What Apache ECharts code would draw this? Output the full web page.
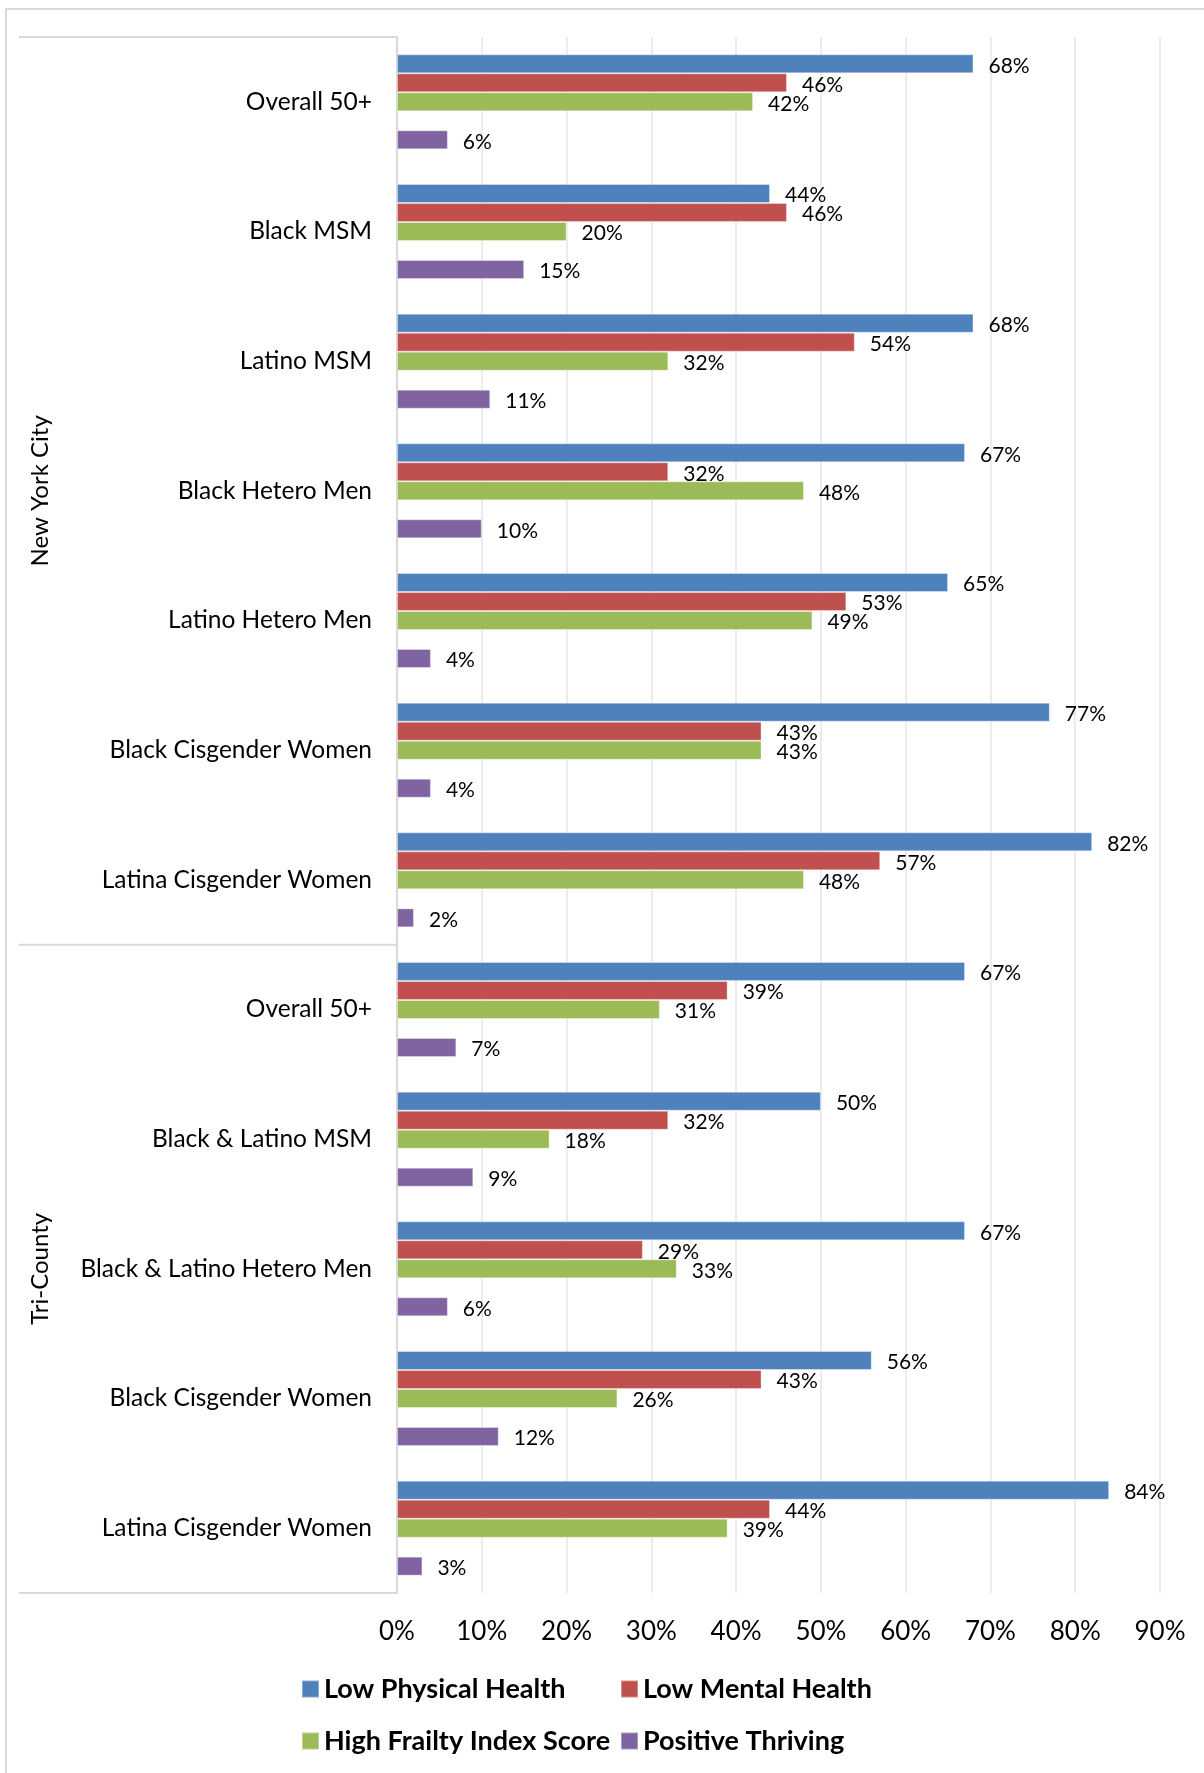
<!DOCTYPE html>
<html>
<head>
<meta charset="utf-8">
<title>Health indicators by group</title>
<script src="https://cdn.jsdelivr.net/npm/echarts@6/dist/echarts.min.js"></script>
<style>
  html, body { margin: 0; padding: 0; background: #ffffff; }
  #chart { width: 1204px; height: 1773px; }
</style>
</head>
<body>
<div id="chart"></div>
<script>
// Subgroups shown on the category axis (top to bottom)
const categories = [
  'Overall 50+', 'Black MSM', 'Latino MSM', 'Black Hetero Men',
  'Latino Hetero Men', 'Black Cisgender Women', 'Latina Cisgender Women',
  'Overall 50+', 'Black & Latino MSM', 'Black & Latino Hetero Men',
  'Black Cisgender Women', 'Latina Cisgender Women'
];

// Outer grouping of the categories
const groupNames = ['New York City', 'Tri-County'];
const groupSizes = [7, 5];

// Percent of each subgroup
const lowPhysicalHealth = [68, 44, 68, 67, 65, 77, 82, 67, 50, 67, 56, 84];
const lowMentalHealth   = [46, 46, 54, 32, 53, 43, 57, 39, 32, 29, 43, 44];
const highFrailty       = [42, 20, 32, 48, 49, 43, 48, 31, 18, 33, 26, 39];
const positiveThriving  = [ 6, 15, 11, 10,  4,  4,  2,  7,  9,  6, 12,  3];

const seriesNames = ['Low Physical Health', 'Low Mental Health', 'High Frailty Index Score', 'Positive Thriving'];
const seriesColors = ['#4F81BD', '#C0504D', '#9BBB59', '#8064A2'];

const FONT = 'Lato, "Open Sans", sans-serif';

const chart = echarts.init(document.getElementById('chart'), null, { renderer: 'canvas' });

function barSeries(name, data, color) {
  return {
    name: name,
    type: 'bar',
    data: data,
    barWidth: 19,
    barGap: '0%',
    itemStyle: { color: color, borderColor: 'rgba(255,255,255,0.35)', borderWidth: 1 },
    label: {
      show: true,
      position: 'right',
      distance: 15,
      offset: [0, 2],
      formatter: '{c}%',
      color: '#000',
      fontFamily: FONT,
      fontSize: 21
    },
    emphasis: { disabled: true }
  };
}

const GRID = { left: 397, right: 44, top: 37, bottom: 180 };

const legendText = { fontFamily: FONT, fontWeight: 'bold', fontSize: 27, color: '#000', lineHeight: 30 };

chart.setOption({
  animation: false,
  backgroundColor: '#ffffff',
  grid: GRID,
  legend: [
    {
      data: [seriesNames[0], seriesNames[2]],
      orient: 'vertical',
      left: 301, top: 1674, padding: 0,
      itemWidth: 17, itemHeight: 17, itemGap: 22,
      icon: 'rect',
      selectedMode: false,
      textStyle: legendText
    },
    {
      data: [seriesNames[1], seriesNames[3]],
      orient: 'vertical',
      left: 620, top: 1674, padding: 0,
      itemWidth: 17, itemHeight: 17, itemGap: 22,
      icon: 'rect',
      selectedMode: false,
      textStyle: legendText
    }
  ],
  xAxis: {
    type: 'value',
    min: 0, max: 90, interval: 10,
    axisLine: { show: false },
    axisTick: { show: false },
    splitLine: { show: true, lineStyle: { color: '#e6e6e6', width: 1.5 } },
    axisLabel: { formatter: '{value}%', fontFamily: FONT, fontSize: 26, color: '#000', margin: 26 }
  },
  yAxis: {
    type: 'category',
    data: categories,
    inverse: true,
    axisLine: { show: true, lineStyle: { color: '#d9d9d9', width: 2 } },
    axisTick: { show: false },
    axisLabel: { fontFamily: FONT, fontSize: 24.5, color: '#000', margin: 25 }
  },
  series: [
    barSeries(seriesNames[0], lowPhysicalHealth, seriesColors[0]),
    barSeries(seriesNames[1], lowMentalHealth, seriesColors[1]),
    barSeries(seriesNames[2], highFrailty, seriesColors[2]),
    // empty slot that keeps the thriving bar set apart from the other three
    { name: 'gap', type: 'bar', data: categories.map(() => null), barWidth: 19, barGap: '0%', silent: true },
    barSeries(seriesNames[3], positiveThriving, seriesColors[3])
  ]
});

// Group brackets and labels on the left, placed from the category scale
function drawGroups() {
  const band = (chart.getHeight() - GRID.top - GRID.bottom) / categories.length;
  const edge = (i) => chart.convertToPixel({ yAxisIndex: 0 }, i) - band / 2;
  const graphics = [];
  // chart frame
  graphics.push({
    type: 'rect', silent: true,
    shape: { x: 6, y: 9, width: 1260, height: 1840 },
    style: { fill: null, stroke: '#d9d9d9', lineWidth: 2 }
  });
  let start = 0;
  const bounds = [edge(0)];
  groupSizes.forEach((n, g) => {
    const yTop = edge(start);
    const yBottom = edge(start + n - 1) + band;
    bounds.push(yBottom);
    graphics.push({
      type: 'text', silent: true,
      x: 40, y: (yTop + yBottom) / 2,
      rotation: Math.PI / 2,
      style: {
        text: groupNames[g], fontFamily: FONT, fontSize: 24, fill: '#000',
        align: 'center', verticalAlign: 'middle'
      }
    });
    start += n;
  });
  bounds.forEach((y) => {
    graphics.push({
      type: 'line', silent: true,
      shape: { x1: 19, y1: y, x2: GRID.left, y2: y },
      style: { stroke: '#d9d9d9', lineWidth: 2 }
    });
  });
  chart.setOption({ graphic: graphics });
}
drawGroups();
</script>
</body>
</html>
